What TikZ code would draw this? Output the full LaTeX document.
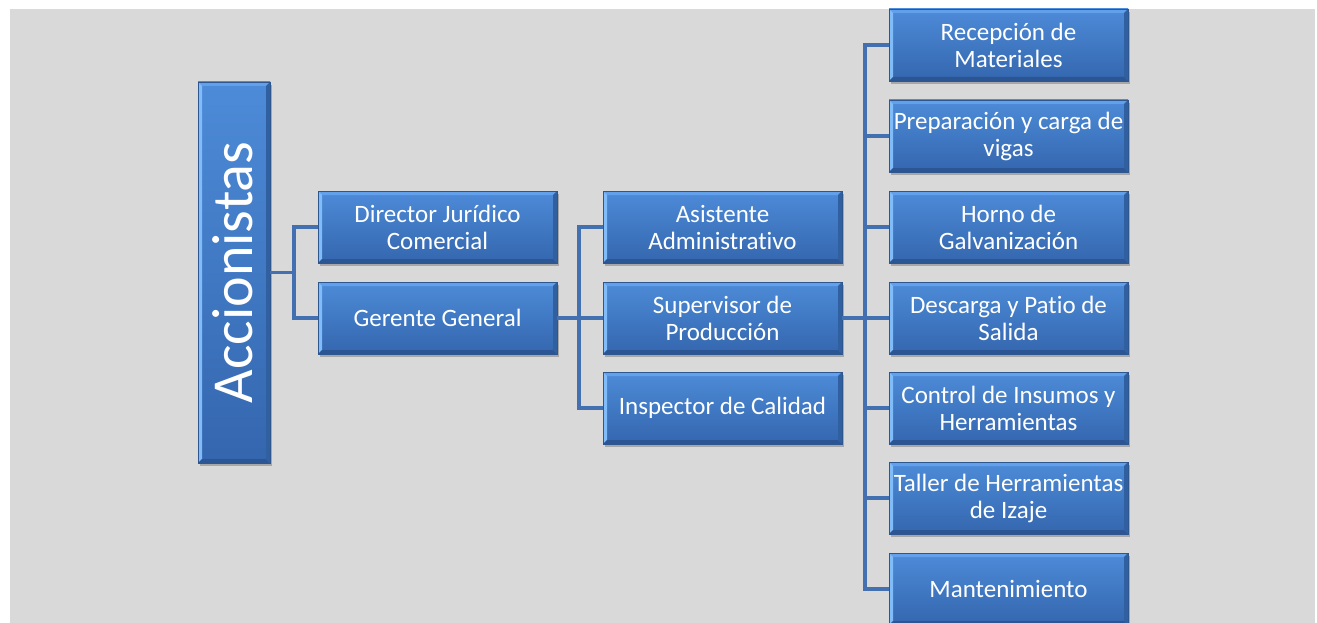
\documentclass[tikz,border=0pt]{standalone}
\usepackage{fontspec}
\setmainfont{Carlito}[Ligatures=NoCommon]
\usetikzlibrary{shadows}
\definecolor{bgc}{HTML}{D9D9D9}
\definecolor{btop}{HTML}{4D8BD8}
\definecolor{bbot}{HTML}{3466AE}
\definecolor{bvtop}{HTML}{62A0EC}
\definecolor{bvleft}{HTML}{80BBFA}
\definecolor{bvbot}{HTML}{2C5693}
\definecolor{bvright}{HTML}{30609F}
\definecolor{bord}{HTML}{2E5790}
\definecolor{connc}{HTML}{4270B0}
\tikzset{
  bevel/.style={
    path picture={
      \fill[bvtop] (path picture bounding box.north west) -- (path picture bounding box.north east)
        -- ([xshift=-4pt,yshift=-4pt]path picture bounding box.north east)
        -- ([xshift=4pt,yshift=-4pt]path picture bounding box.north west) -- cycle;
      \fill[bvleft] (path picture bounding box.north west) -- (path picture bounding box.south west)
        -- ([xshift=4pt,yshift=4pt]path picture bounding box.south west)
        -- ([xshift=4pt,yshift=-4pt]path picture bounding box.north west) -- cycle;
      \fill[bvbot] (path picture bounding box.south west) -- (path picture bounding box.south east)
        -- ([xshift=-4pt,yshift=4pt]path picture bounding box.south east)
        -- ([xshift=4pt,yshift=4pt]path picture bounding box.south west) -- cycle;
      \fill[bvright] (path picture bounding box.north east) -- (path picture bounding box.south east)
        -- ([xshift=-4pt,yshift=4pt]path picture bounding box.south east)
        -- ([xshift=-4pt,yshift=-4pt]path picture bounding box.north east) -- cycle;
    }},
  bx/.style={rectangle, bevel, top color=btop, bottom color=bbot, draw=bord, line width=0.6pt,
    minimum width=239pt, minimum height=72pt, inner sep=0pt, align=center,
    text=white, font=\fontsize{25}{27}\selectfont,
    drop shadow={shadow xshift=2pt, shadow yshift=-3pt, opacity=0.35, fill=black!70}},
  connl/.style={draw=connc, line width=3.3pt},
}
\begin{document}
\begin{tikzpicture}[x=1pt,y=-1pt]
\useasboundingbox (0,0) rectangle (1317,623);
\fill[white] (0,0) rectangle (1317,623);
\fill[bgc] (10,9) rectangle (1315,623);

\coordinate (j1) at (294,272.5);
\coordinate (j2) at (579,318);
\coordinate (j3) at (865,318);

% boxes
\node[bx, minimum width=72pt, minimum height=381pt] (acc) at (234,272.5) {};
\node[rotate=90, text=white, font=\fontsize{58}{60}\selectfont, inner sep=0pt] (acct) at (233,272.5) {Accionistas};

\node[bx] (dir) at (437.5,227) {Director Jurídico\\Comercial};
\node[bx] (ger) at (437.5,318) {Gerente General};

\node[bx] (asi) at (722.5,227) {Asistente\\Administrativo};
\node[bx] (sup) at (722.5,318) {Supervisor de\\Producción};
\node[bx] (ins) at (722.5,408) {Inspector de Calidad};

\node[bx] (r1) at (1008.5,45) {Recepción de\\Materiales};
\node[bx] (r2) at (1008.5,136) {Preparación y carga de\\vigas};
\node[bx] (r3) at (1008.5,227) {Horno de\\Galvanización};
\node[bx] (r4) at (1008.5,318) {Descarga y Patio de\\Salida};
\node[bx] (r5) at (1008.5,408) {Control de Insumos y\\Herramientas};
\node[bx] (r6) at (1008.5,498) {Taller de Herramientas\\de Izaje};
\node[bx] (r7) at (1008.5,589) {Mantenimiento};

% connectors
\draw[connl] (acc.east) -- (j1);
\draw[connl] (dir.west) -| (j1) |- (ger.west);
\draw[connl] (ger.east) -- (sup.west);
\draw[connl] (asi.west) -| (j2) |- (ins.west);
\draw[connl] (sup.east) -- (r4.west);
\draw[connl] (r1.west) -| (j3) |- (r7.west);
\draw[connl] (r2.west) -| (j3);
\draw[connl] (r3.west) -| (j3);
\draw[connl] (r5.west) -| (j3);
\draw[connl] (r6.west) -| (j3);
\end{tikzpicture}
\end{document}
